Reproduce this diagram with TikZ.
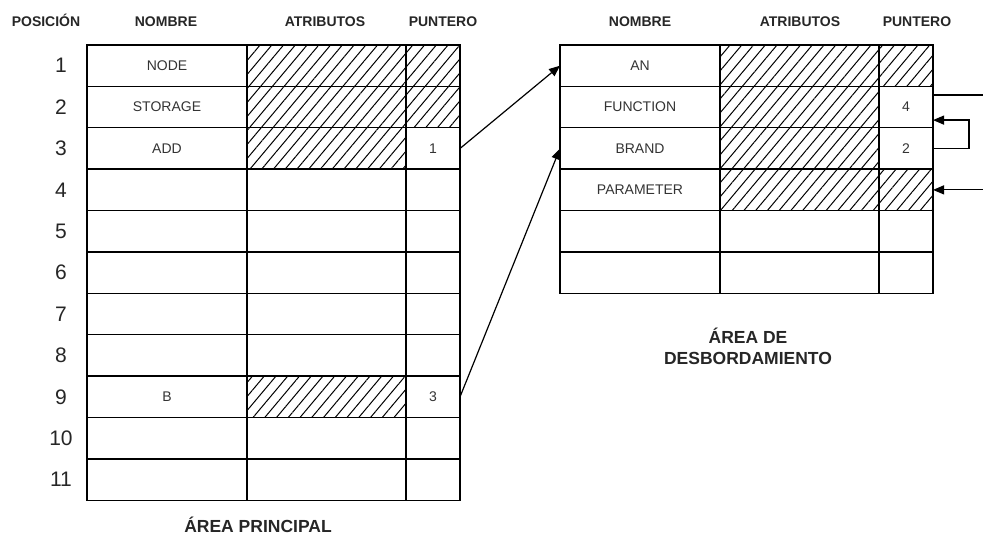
\documentclass[tikz,border=0pt]{standalone}
\usepackage{fontspec}
\setmainfont{Liberation Sans}
\usepackage{tikz}
\usetikzlibrary{arrows.meta, patterns.meta, positioning}
\tikzset{
  celda/.style = {draw, line width=1.4pt, minimum height=41.4pt, inner sep=0pt, outer sep=0pt, text=black!80, font=\fontsize{14}{16}\selectfont},
  nom/.style = {celda, minimum width=160pt},
  atr/.style = {celda, minimum width=159pt},
  pun/.style = {celda, minimum width=54pt},
  rayado/.style = {pattern={Lines[angle=50, distance=9pt, line width=1pt]}},
  libre/.style = {},
  cabecera/.style = {anchor=base, font=\bfseries\fontsize{14}{16}\selectfont, text=black!85},
  numero/.style = {font=\fontsize{21}{24}\selectfont, text=black!85},
  titulo/.style = {align=center, inner sep=1pt, font=\bfseries\fontsize{17.5}{21}\selectfont, text=black!85},
  flecha/.style = {line width=1.2pt, -{Triangle[length=11pt, width=9pt]}}
}

\begin{document}
\begin{tikzpicture}[x=1pt, y=-1pt]
    \useasboundingbox (0,0) rectangle (983,537);
    \clip (0,0) rectangle (983,537);

    % cabeceras
    \node[cabecera] (hpos) at (46,27) {POSICIÓN};
    \node[cabecera] (hnom) at (166,27) {NOMBRE};
    \node[cabecera] (hatr) at (325,27) {ATRIBUTOS};
    \node[cabecera] (hpun) at (443,27) {PUNTERO};
    \node[cabecera] (hnom2) at (640,27) {NOMBRE};
    \node[cabecera] (hatr2) at (800,27) {ATRIBUTOS};
    \node[cabecera] (hpun2) at (917,27) {PUNTERO};

    % area principal
    \foreach \i/\n/\a/\p/\v in {1/NODE/rayado/rayado/{}, 2/STORAGE/rayado/rayado/{},
        3/ADD/rayado/libre/1, 4/{}/libre/libre/{}, 5/{}/libre/libre/{}, 6/{}/libre/libre/{},
        7/{}/libre/libre/{}, 8/{}/libre/libre/{}, 9/B/rayado/libre/3,
        10/{}/libre/libre/{}, 11/{}/libre/libre/{}}{
      \node[numero] (n\i) at (61,{45+(\i-0.5)*41.4}) {\i};
      \node[nom] (pn\i) at (167,{45+(\i-0.5)*41.4}) {\n};
      \node[atr,\a] (pa\i) [right=0pt of pn\i] {};
      \node[pun,\p] (pp\i) [right=0pt of pa\i] {\v};
    }

    % area de desbordamiento
    \foreach \i/\n/\a/\p/\v in {1/AN/rayado/rayado/{}, 2/FUNCTION/rayado/libre/4,
        3/BRAND/rayado/libre/2, 4/PARAMETER/rayado/rayado/{},
        5/{}/libre/libre/{}, 6/{}/libre/libre/{}}{
      \node[nom] (rn\i) at (640,{45+(\i-0.5)*41.4}) {\n};
      \node[atr,\a] (ra\i) [right=0pt of rn\i] {};
      \node[pun,\p] (rp\i) [right=0pt of ra\i] {\v};
    }

    \node[titulo, anchor=base] (tprin) at (258,532) {ÁREA PRINCIPAL};
    \node[titulo] (tdesb) at (748,346) {ÁREA DE\\DESBORDAMIENTO};

    % punteros
    \coordinate (fuera) at (1000,0);
    \coordinate (lazo) at (969,0);
    \draw[flecha] (pp3.east) -- (rn1.west);
    \draw[flecha] (pp9.east) -- (rn3.west);
    \draw[flecha] ([yshift=12pt]rp2.east) -- ([yshift=12pt]rp2.east -| fuera) -- (fuera |- rp4.east) -- (rp4.east);
    \draw[flecha] (rp3.east) -- (rp3.east -| lazo) |- ([yshift=-13pt]rp2.east);
\end{tikzpicture}
\end{document}
